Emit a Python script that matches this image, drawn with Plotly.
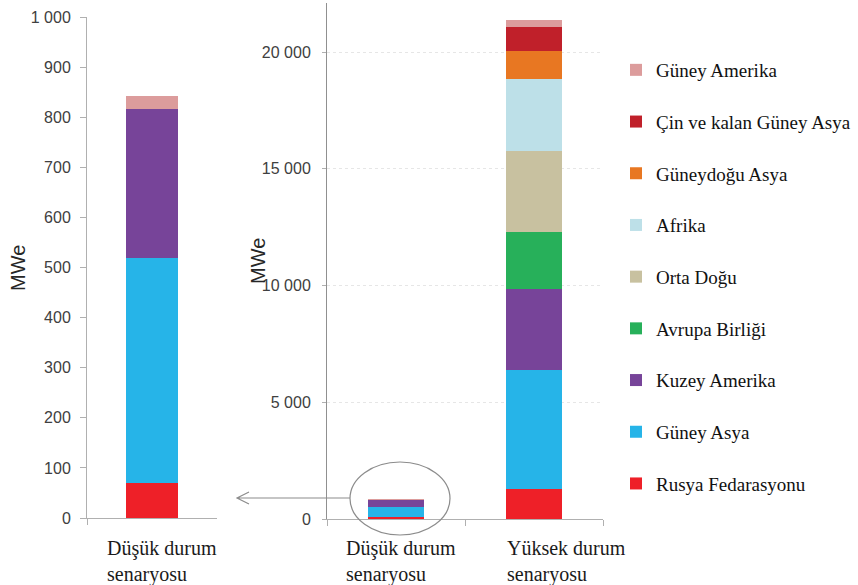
import plotly.graph_objects as go

# Regions (bottom of stack first) and their colours
regions = [
    "Rusya Fedarasyonu",
    "Güney Asya",
    "Kuzey Amerika",
    "Avrupa Birliği",
    "Orta Doğu",
    "Afrika",
    "Güneydoğu Asya",
    "Çin ve kalan Güney Asya",
    "Güney Amerika",
]
colors = [
    "#ee2028", "#26b4e8", "#774499", "#27b05a", "#c8c1a0",
    "#bde0e8", "#e87722", "#c0202a", "#dc9c9c",
]

scenarios = ["Düşük durum senaryosu", "Yüksek durum senaryosu"]
scenario_labels = ["Düşük durum<br>senaryosu", "Yüksek durum<br>senaryosu"]

# Installed capacity, MWe
low_case = [70, 449, 297, 0, 0, 0, 0, 0, 26]
high_case = [1290, 5100, 3470, 2440, 3470, 3080, 1200, 1030, 300]

W, H = 858, 585


def px(x):
    return x / W


def py(y):
    return 1 - y / H


fig = go.Figure()

n = len(regions)
for i, name in enumerate(regions):
    # zoomed view of the low case
    fig.add_trace(go.Bar(
        x=[scenarios[0]], y=[low_case[i]], name=name,
        marker=dict(color=colors[i], line=dict(width=0)),
        xaxis="x", yaxis="y", showlegend=False, legendgroup=name,
    ))
    # both scenarios on the full scale
    fig.add_trace(go.Bar(
        x=scenarios, y=[low_case[i], high_case[i]], name=name,
        marker=dict(color=colors[i], line=dict(width=0)),
        xaxis="x2", yaxis="y2", showlegend=True, legendgroup=name,
        legendrank=n - i,
    ))

axis_font = dict(family="Liberation Sans, Arial", size=16, color="#404040")
serif = "Liberation Serif, Times New Roman"

fig.update_layout(
    width=W, height=H,
    margin=dict(l=0, r=0, t=0, b=0, autoexpand=False),
    paper_bgcolor="white", plot_bgcolor="white",
    barmode="stack", bargap=0.6,
    separators=", ",
    showlegend=True,
    legend=dict(
        x=px(616), y=py(51), xanchor="left", yanchor="top",
        traceorder="grouped", tracegroupgap=24,
        font=dict(family=serif, size=19, color="#111111"),
        itemclick=False, itemdoubleclick=False,
    ),
    xaxis=dict(
        domain=[px(87), px(217)], anchor="y", automargin=False,
        range=[-0.5, 0.5],
        showticklabels=False, showline=True, linecolor="#b0b0b0", linewidth=1,
        ticks="outside", tickson="boundaries", ticklen=6, tickcolor="#b0b0b0",
        showgrid=False,
    ),
    yaxis=dict(
        domain=[py(518), py(17)], anchor="x", range=[0, 1000], dtick=100,
        automargin=False,
        tickformat=",d", tickfont=axis_font,
        showline=True, linecolor="#b0b0b0", linewidth=1,
        ticks="outside", ticklen=6, tickcolor="#b0b0b0",
        showgrid=False, zeroline=False, ticklabelstandoff=6,
    ),
    xaxis2=dict(
        domain=[px(327), px(603)], anchor="y2", automargin=False,
        range=[-0.5, 1.5],
        showticklabels=False, showline=True, linecolor="#b0b0b0", linewidth=1,
        ticks="outside", tickson="boundaries", ticklen=6, tickcolor="#b0b0b0",
        showgrid=False,
    ),
    yaxis2=dict(
        domain=[py(519), py(3)], anchor="x2", range=[0, 22100], dtick=5000,
        automargin=False,
        tickformat=",d", tickfont=axis_font,
        showline=True, linecolor="#909090", linewidth=1,
        ticks="outside", ticklen=4, tickcolor="#b0b0b0",
        showgrid=True, gridcolor="#e6e6e6", griddash="dot",
        zeroline=False, ticklabelstandoff=8,
    ),
)

annotations = []
# y-axis titles
for xpix, ycen in [(18, 268), (258, 261)]:
    annotations.append(dict(
        x=px(xpix), y=py(ycen), xref="paper", yref="paper",
        xanchor="center", yanchor="middle",
        text="MWe", textangle=-90, showarrow=False,
        font=dict(family="Liberation Sans, Arial", size=20, color="#262626"),
    ))

# category labels, left aligned under each bar
for xa, cat, lab, shift in [
    ("x", scenarios[0], scenario_labels[0], -47),
    ("x2", scenarios[0], scenario_labels[0], -52),
    ("x2", scenarios[1], scenario_labels[1], -29),
]:
    annotations.append(dict(
        x=cat, y=py(535), xref=xa, yref="paper",
        text=lab, showarrow=False, xanchor="left", yanchor="top",
        align="left", xshift=shift,
        font=dict(family=serif, size=20, color="#1a1a1a"),
    ))
fig.update_layout(annotations=annotations)

# circle around the small bar and the arrow pointing to the zoomed chart
line_style = dict(color="#8c8c8c", width=1.2)
ax0, ax1, ay = 237, 350, 498
arrow_path = (
    f"M{px(ax1)},{py(ay)} L{px(ax0)},{py(ay)} "
    f"M{px(ax0 + 12)},{py(ay - 6)} L{px(ax0)},{py(ay)} L{px(ax0 + 12)},{py(ay + 6)}"
)
fig.update_layout(shapes=[
    dict(type="circle", xref="paper", yref="paper",
         x0=px(350), x1=px(450), y0=py(535), y1=py(462),
         line=line_style, fillcolor="rgba(0,0,0,0)"),
    dict(type="path", xref="paper", yref="paper", path=arrow_path, line=line_style),
])

fig.write_html("out.html")
